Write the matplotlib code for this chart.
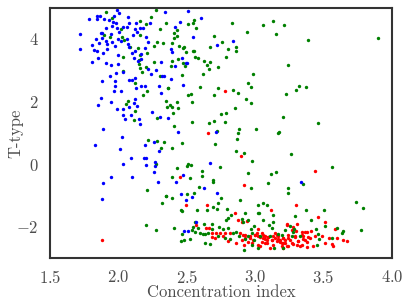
import matplotlib
matplotlib.use("Agg")
import matplotlib.pyplot as plt
import numpy as np

# early types (blue)
blue_x = [1.992, 2.004, 1.841, 1.863, 1.968, 2.070, 1.785, 1.846, 1.895, 1.931,
          1.963, 1.980, 2.080, 2.131, 2.338, 2.231, 1.956, 2.034, 2.065, 1.912,
          1.987, 2.119, 2.158, 2.182, 2.138, 1.717, 1.870, 1.882, 1.943, 2.004,
          2.109, 2.204, 1.834, 1.882, 1.907, 1.999, 2.021, 2.060, 1.951, 1.858,
          1.919, 2.070, 2.216, 1.809, 1.973, 2.078, 2.192, 1.822, 1.717, 1.919,
          1.846, 2.121, 1.890, 2.097, 2.168, 1.997, 2.114, 1.851, 2.163, 2.146,
          2.309, 1.809, 1.912, 1.997, 1.948, 2.216, 2.036, 2.277, 1.985, 2.236,
          1.939, 2.321, 2.333, 2.121, 2.078, 2.102, 1.878, 1.973, 1.973, 2.126,
          2.163, 2.194, 2.297, 1.968, 2.021, 2.309, 1.875, 1.943, 2.119, 2.114,
          1.851, 2.078, 2.138, 1.992, 2.034, 2.248, 2.036, 2.095, 2.304, 2.046,
          2.151, 2.155, 1.887,
          2.511, 2.450, 2.604, 2.414, 2.543, 2.840, 2.723, 2.384, 2.389, 2.467,
          2.492, 2.499, 2.414, 2.384, 2.475, 2.365, 2.711, 2.433,
          2.024, 1.829, 2.260, 2.197, 2.009, 2.299, 2.095, 2.190, 2.204, 2.270,
          2.034, 2.199, 2.265, 2.263, 1.946, 2.102, 1.890, 2.289, 1.883,
          2.670, 2.475, 2.419, 2.623, 2.458, 2.540, 2.723, 2.494, 2.565, 2.479,
          2.511, 3.332]
blue_y = [4.93, 4.82, 4.73, 4.73, 4.73, 4.69, 4.63, 4.63, 4.63, 4.61,
          4.53, 4.52, 4.52, 4.52, 4.85, 4.52, 4.41, 4.39, 4.37, 4.34,
          4.34, 4.31, 4.34, 4.34, 4.23, 4.16, 4.18, 4.18, 4.16, 4.21,
          4.13, 4.05, 4.00, 4.02, 3.95, 3.99, 3.95, 3.99, 3.91, 3.88,
          3.84, 3.83, 3.91, 3.81, 3.78, 3.73, 3.70, 3.65, 3.67, 3.67,
          3.63, 3.63, 3.56, 3.54, 3.51, 3.49, 3.38, 3.38, 3.36, 3.30,
          3.28, 3.25, 3.22, 3.19, 3.17, 3.03, 2.96, 3.01, 2.90, 2.87,
          2.83, 2.82, 2.82, 2.74, 2.69, 2.69, 2.66, 2.67, 2.51, 2.44,
          2.51, 2.51, 2.50, 2.34, 2.35, 2.26, 2.10, 1.99, 2.07, 1.97,
          1.89, 1.82, 1.86, 1.76, 1.76, 1.66, 1.57, 1.57, 1.50, 1.44,
          1.44, 1.27, 1.12,
          4.89, 4.55, 4.66, 4.39, 4.05, 3.95, 3.81, 3.67, 3.60, 3.40,
          3.22, 3.22, 3.15, 2.71, 2.53, 1.46, 1.02, 1.04,
          0.88, 0.61, 0.72, 0.60, 0.48, 0.42, 0.21, 0.21, 0.21, 0.06,
          0.00, -0.04, -0.06, -0.25, -0.42, -0.40, -0.59, -0.58, -1.10,
          0.05, -0.34, -0.56, -0.75, -0.94, -1.06, -0.91, -1.14, -1.84, -2.13,
          -2.13, -0.56]

# intermediate types (green)
green_x = [1.912, 1.956, 2.155, 2.236, 2.277, 2.350, 2.199, 2.017, 2.304, 1.895,
           2.155, 1.939, 2.029, 2.041, 2.285, 2.328, 2.085, 2.143, 2.260, 2.207,
           2.155, 2.034, 2.151, 2.260, 2.199, 2.151, 2.158, 2.170, 2.034, 2.304,
           2.119, 2.363, 2.207, 2.182, 2.070, 2.053, 2.350, 2.353, 2.119, 2.280,
           2.114,
           2.553, 2.506, 2.543, 2.426, 2.567, 2.833, 2.942, 3.128, 3.055, 3.150,
           3.213, 2.409, 2.431, 2.406, 2.701, 2.760, 2.394, 2.443, 2.470, 2.479,
           2.670, 2.857, 2.799, 2.860, 2.494, 2.548, 2.555, 2.786, 2.560, 2.579,
           2.389, 2.433, 2.626, 2.670, 2.475, 2.487, 2.650, 2.382, 2.726, 2.662,
           2.616, 2.462, 2.981, 2.945, 2.967, 2.365, 2.596, 2.726, 2.840, 2.872,
           2.531, 2.506, 2.701, 2.930, 2.426, 2.536, 2.969, 2.377, 2.394, 2.438,
           2.852, 2.397, 2.784, 2.750, 3.206, 2.701, 2.536, 2.662, 2.779, 2.406,
           2.881, 3.006, 2.718, 3.176, 2.872, 3.164,
           3.388, 3.895, 3.240, 3.318, 3.301, 3.369, 3.225, 3.462,
           2.214, 2.280, 2.331, 2.311, 2.275, 2.207, 2.346, 2.319, 2.202, 2.272,
           2.864, 2.462, 2.706, 2.389, 2.857, 2.918, 2.974, 2.511, 2.531, 2.499,
           2.743, 2.426, 2.609, 2.945, 3.152, 3.115, 2.394, 2.523, 2.609, 2.689,
           2.689, 3.091, 2.969, 2.592, 2.345, 2.389, 2.499, 2.747, 2.555, 2.889,
           2.726, 3.054, 3.084, 3.018, 2.694, 2.718, 2.458, 2.462, 2.572, 2.645,
           2.791, 3.023, 3.030, 2.925, 2.823, 3.133, 2.784, 2.803, 2.901, 2.945,
           2.560, 2.913, 3.054, 3.133, 2.409, 2.548, 2.584, 2.626, 2.682, 2.686,
           2.735, 2.767, 2.799, 2.994, 2.969, 3.101, 3.125, 2.536, 2.462, 2.560,
           2.596, 2.621, 2.633, 2.652, 2.730, 2.840, 2.857, 2.881, 2.945, 2.979,
           3.035, 3.108, 3.169, 2.633, 2.670, 2.523, 2.479, 2.458, 2.918, 2.979,
           3.018, 3.140, 2.816, 2.925, 2.994, 2.779,
           3.259, 3.559, 3.347, 3.237, 3.242, 3.737, 3.786, 3.371, 3.503, 3.291,
           3.408, 3.510, 3.771, 3.595, 3.632, 3.644, 3.442, 3.254, 3.284, 3.218,
           3.457, 3.564, 3.469, 3.454, 3.279, 3.267, 3.201, 3.328, 3.193]
green_y = [4.87, 4.68, 4.57, 4.71, 4.94, 4.50, 4.48, 4.32, 4.32, 4.13,
           4.13, 4.05, 4.05, 3.97, 3.89, 3.86, 3.75, 3.72, 3.79, 3.54,
           3.49, 3.44, 3.33, 3.28, 3.12, 3.19, 3.06, 2.96, 2.98, 2.83,
           2.60, 2.42, 2.34, 2.21, 2.02, 1.92, 2.02, 1.84, 1.70, 1.49,
           1.41,
           4.61, 4.48, 4.50, 4.29, 4.34, 4.50, 4.21, 4.59, 4.45, 4.15,
           4.45, 4.18, 4.09, 4.04, 4.11, 3.89, 3.86, 3.78, 3.72, 3.75,
           3.75, 3.75, 3.67, 3.63, 3.60, 3.62, 3.62, 3.44, 3.44, 3.38,
           3.30, 3.35, 3.31, 3.25, 3.22, 3.15, 3.17, 3.14, 3.09, 3.03,
           2.87, 2.85, 2.87, 2.58, 2.46, 2.42, 2.45, 2.42, 2.37, 2.26,
           2.23, 2.21, 2.21, 2.08, 1.99, 1.98, 1.97, 1.89, 1.84, 1.81,
           1.81, 1.65, 1.65, 1.59, 1.52, 1.39, 1.36, 1.33, 1.36, 1.23,
           1.12, 1.11, 1.06, 1.04, 1.01, 0.99,
           3.97, 4.04, 3.18, 2.50, 2.38, 2.47, 2.24, 1.33,
           0.77, 0.74, 0.72, 0.51, 0.00, -0.82, -1.02, -1.23, -1.94, -2.10,
           0.79, 0.69, 0.65, 0.51, 0.43, 0.37, 0.11, 0.00, -0.03, -0.06,
           -0.08, -0.11, -0.22, -0.29, -0.24, -0.32, -0.40, -0.43, -0.38, -0.50,
           -0.56, -0.61, -0.75, -0.72, -1.02, -1.07, -0.96, -1.09, -0.93, -1.16,
           -1.23, -1.23, -1.30, -1.32, -1.38, -1.44, -1.46, -1.51, -1.46, -1.46,
           -1.43, -1.57, -1.57, -1.57, -1.64, -1.62, -1.80, -1.73, -1.75, -1.78,
           -1.84, -1.86, -1.80, -1.84, -2.03, -2.02, -2.03, -1.91, -1.92, -2.08,
           -2.02, -2.07, -2.05, -1.99, -2.07, -1.96, -2.03, -2.12, -2.23, -2.16,
           -2.19, -2.23, -2.23, -2.21, -2.29, -2.21, -2.16, -2.29, -2.31, -2.21,
           -2.29, -2.29, -2.23, -2.53, -2.55, -2.40, -2.42, -2.47, -2.76, -2.58,
           -2.69, -2.69, -2.40, -2.40, -2.42, -2.37,
           0.31, -0.10, -0.63, -0.77, -0.93, -1.22, -1.41, -1.48, -1.48, -1.65,
           -1.80, -1.97, -2.10, -2.03, -2.21, -2.13, -2.07, -1.99, -2.07, -2.10,
           -2.23, -2.37, -2.40, -2.58, -2.16, -2.29, -2.69, -2.29, -2.26]

# late types (red)
red_x = [2.779, 2.657, 1.880, 2.896, 2.448, 2.918, 2.650, 2.494, 3.115, 2.852,
         2.872, 2.565, 2.638, 2.665, 3.023, 2.686, 2.711, 2.743, 2.779, 2.816,
         2.889, 2.925, 2.962, 2.998, 3.018, 3.047, 3.059, 3.072, 3.084, 3.096,
         3.120, 3.133, 3.145, 3.157, 3.169, 3.181, 3.193, 3.206, 2.686, 2.706,
         2.860, 2.918, 2.979, 3.035, 3.072, 3.206, 2.906, 2.767, 2.803,
         3.437, 3.296, 3.457, 3.510, 3.583, 3.230, 3.274, 3.298, 3.340, 3.376,
         3.406, 3.437, 3.486, 3.542, 3.600, 3.639, 3.669, 3.510, 3.559, 3.566,
         3.425, 3.376, 3.340, 3.315, 3.291, 3.242, 3.218, 3.206, 3.267, 3.303,
         3.230, 3.364, 3.401, 3.352,
         2.901, 2.938, 2.908, 2.926, 2.962, 2.986, 3.011, 3.035, 3.047, 3.060,
         3.072, 3.084, 3.096, 3.120, 3.133, 3.157, 3.169, 3.181, 3.194, 3.206,
         3.218, 3.230, 3.242, 3.254, 3.267, 3.279, 3.291, 3.303, 3.315, 3.328,
         3.340, 3.352, 3.364, 3.376, 3.388, 3.023, 3.108, 3.242, 2.950, 2.999,
         3.145]
red_y = [2.35, 0.99, -2.44, 0.26, -0.40, -0.67, -1.30, -1.30, -1.48, -1.55,
         -1.80, -1.94, -2.03, -2.03, -2.07, -2.21, -2.21, -2.21, -2.21, -2.21,
         -2.21, -2.26, -2.31, -2.26, -2.31, -2.21, -2.37, -2.29, -2.42, -2.34,
         -2.42, -2.29, -2.37, -2.47, -2.29, -2.42, -2.53, -2.37, -2.34, -2.37,
         -2.53, -2.58, -2.51, -2.63, -2.53, -2.69, -2.42, -2.31, -2.47,
         -0.21, -1.30, -1.70, -1.84, -2.07, -1.92, -2.02, -2.13, -2.16, -2.16,
         -2.13, -2.29, -2.29, -2.37, -2.37, -2.42, -2.47, -2.51, -2.55, -2.61,
         -2.63, -2.66, -2.58, -2.47, -2.31, -2.37, -2.42, -2.53, -2.53, -2.58,
         -2.63, -2.42, -2.37, -2.31,
         -1.84, -1.81, -2.26, -2.35, -2.37, -2.42, -2.21, -2.32, -2.48, -2.26,
         -2.39, -2.53, -2.32, -2.42, -2.58, -2.28, -2.39, -2.48, -2.63, -2.37,
         -2.53, -1.94, -2.26, -2.42, -2.10, -2.56, -2.32, -1.92, -2.45, -2.63,
         -2.26, -2.39, -2.18, -2.48, -2.32, -2.58, -2.69, -2.63, -2.48, -2.28,
         -2.21]

plt.rcParams["font.family"] = "cmr10"
plt.rcParams["mathtext.fontset"] = "cm"
plt.rcParams["axes.formatter.use_mathtext"] = True

fig = plt.figure(figsize=(4.07, 3.02), dpi=100)
ax = fig.add_axes([0.1229, 0.1457, 0.8403, 0.8288])

ax.scatter(red_x, red_y, s=6, c="red", marker="o", linewidths=0)
ax.scatter(green_x, green_y, s=6, c="green", marker="o", linewidths=0)
ax.scatter(blue_x, blue_y, s=6, c="blue", marker="o", linewidths=0)

ax.set_xlim(1.5, 4.0)
ax.set_ylim(-3, 5)
ax.set_xticks([1.5, 2.0, 2.5, 3.0, 3.5, 4.0])
ax.set_yticks([-2, 0, 2, 4])
ax.tick_params(length=0, labelsize=12, labelcolor="0.3", pad=8)
for sp in ax.spines.values():
    sp.set_color("0.2")
    sp.set_linewidth(1.5)

ax.set_xlabel("Concentration index", fontsize=12, color="0.3", labelpad=-1)
ax.set_ylabel("T-type", fontsize=12, color="0.3", labelpad=-5)

fig.savefig("out.png", dpi=100)
